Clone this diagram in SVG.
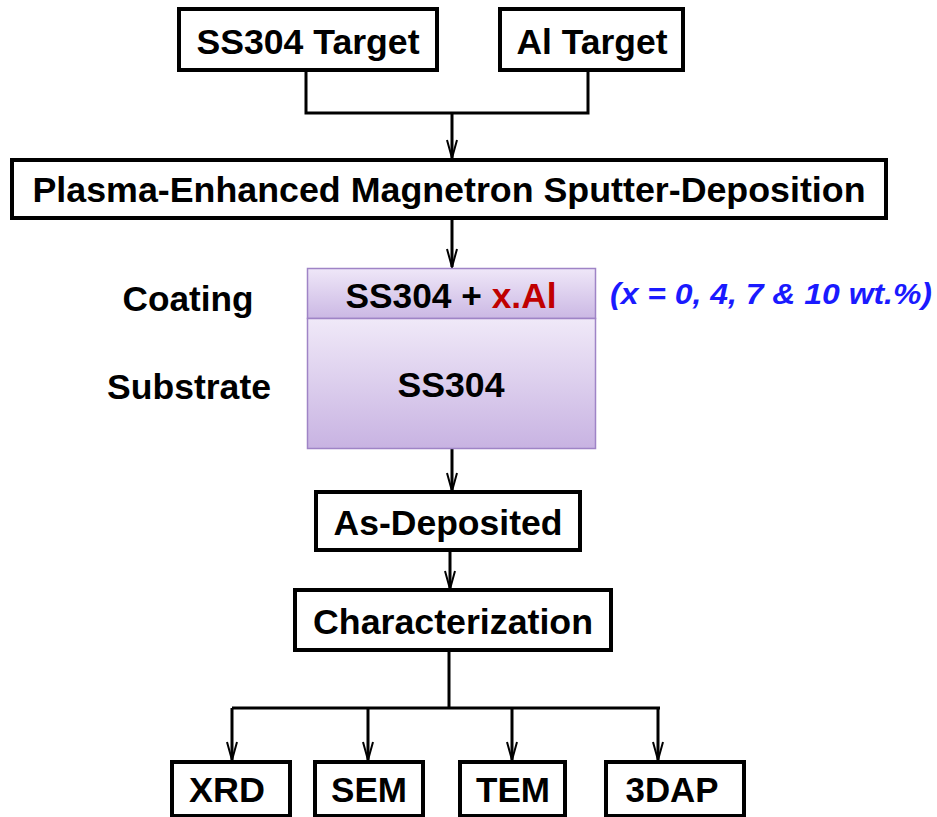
<svg xmlns="http://www.w3.org/2000/svg" width="937" height="817" viewBox="0 0 937 817">
<style>
.box{fill:#fff;stroke:#000;stroke-width:4}
.t{font-family:"Liberation Sans",Arial,sans-serif;font-weight:bold;font-size:35px;fill:#000;text-anchor:middle}
.c{fill:none;stroke:#000;stroke-width:3}
</style>
<defs>
<marker id="ah" viewBox="0 0 20 12" markerWidth="20" markerHeight="12" refX="19" refY="6" orient="auto" markerUnits="userSpaceOnUse">
<path d="M1,1 L19,6 L1,11" fill="none" stroke="#000" stroke-width="2"/>
</marker>
<linearGradient id="g1" x1="0" y1="0" x2="0" y2="1"><stop offset="0" stop-color="#efe7f8"/><stop offset="1" stop-color="#cbb8e4"/></linearGradient>
<linearGradient id="g2" x1="0" y1="0" x2="0" y2="1"><stop offset="0" stop-color="#f0e9f8"/><stop offset="1" stop-color="#c8b3e2"/></linearGradient>
</defs>
<g id="connectors">
<path class="c" d="M306,70 V113 H588 V70"/>
<path class="c" d="M452,113 V158" marker-end="url(#ah)"/>
<path class="c" d="M452,218 V267" marker-end="url(#ah)"/>
<path class="c" d="M452,448 V491" marker-end="url(#ah)"/>
<path class="c" d="M450,550 V589" marker-end="url(#ah)"/>
<path class="c" d="M449,650 V708"/>
<path class="c" d="M232,708 H660"/>
<path class="c" d="M232,708 V760" marker-end="url(#ah)"/>
<path class="c" d="M368,708 V760" marker-end="url(#ah)"/>
<path class="c" d="M512,708 V760" marker-end="url(#ah)"/>
<path class="c" d="M658,708 V760" marker-end="url(#ah)"/>
</g>
<g id="ss304-target">
<rect class="box" x="179" y="9" width="258" height="61"/>
<text class="t" x="308" y="54" textLength="223" lengthAdjust="spacingAndGlyphs">SS304 Target</text>
</g>
<g id="al-target">
<rect class="box" x="500" y="9" width="183" height="61"/>
<text class="t" x="592" y="54" textLength="151" lengthAdjust="spacingAndGlyphs">Al Target</text>
</g>
<g id="sputter">
<rect class="box" x="12" y="160" width="874" height="58"/>
<text class="t" x="449" y="202" textLength="833" lengthAdjust="spacingAndGlyphs">Plasma-Enhanced Magnetron Sputter-Deposition</text>
</g>
<g id="sample">
<rect x="307.5" y="268.5" width="288" height="50" fill="url(#g1)" stroke="#9f84c6" stroke-width="1.5"/>
<rect x="307.5" y="318.5" width="288" height="130" fill="url(#g2)" stroke="#9f84c6" stroke-width="1.5"/>
<text class="t" x="451" y="308" textLength="211" lengthAdjust="spacingAndGlyphs">SS304 + <tspan fill="#c00000">x.Al</tspan></text>
<text class="t" x="451" y="397" textLength="107" lengthAdjust="spacingAndGlyphs">SS304</text>
</g>
<g id="labels">
<text class="t" x="188" y="311" textLength="131" lengthAdjust="spacingAndGlyphs">Coating</text>
<text class="t" x="189" y="399" textLength="164" lengthAdjust="spacingAndGlyphs">Substrate</text>
<text class="t" x="771" y="304" font-style="italic" style="fill:#1a1aff;font-size:30px" textLength="322" lengthAdjust="spacingAndGlyphs">(x = 0, 4, 7 &amp; 10 wt.%)</text>
</g>
<g id="as-deposited">
<rect class="box" x="316" y="492" width="264" height="58"/>
<text class="t" x="448" y="535" textLength="229" lengthAdjust="spacingAndGlyphs">As-Deposited</text>
</g>
<g id="characterization">
<rect class="box" x="295" y="590" width="316" height="60"/>
<text class="t" x="453" y="634" textLength="280" lengthAdjust="spacingAndGlyphs">Characterization</text>
</g>
<g id="xrd">
<rect class="box" x="172" y="762" width="118" height="54"/>
<text class="t" x="227" y="802" textLength="76" lengthAdjust="spacingAndGlyphs">XRD</text>
</g>
<g id="sem">
<rect class="box" x="315" y="762" width="108" height="54"/>
<text class="t" x="369" y="802" textLength="76" lengthAdjust="spacingAndGlyphs">SEM</text>
</g>
<g id="tem">
<rect class="box" x="460" y="762" width="105" height="54"/>
<text class="t" x="513" y="802" textLength="74" lengthAdjust="spacingAndGlyphs">TEM</text>
</g>
<g id="3dap">
<rect class="box" x="606" y="762" width="138" height="54"/>
<text class="t" x="672" y="802" textLength="93" lengthAdjust="spacingAndGlyphs">3DAP</text>
</g>
</svg>
